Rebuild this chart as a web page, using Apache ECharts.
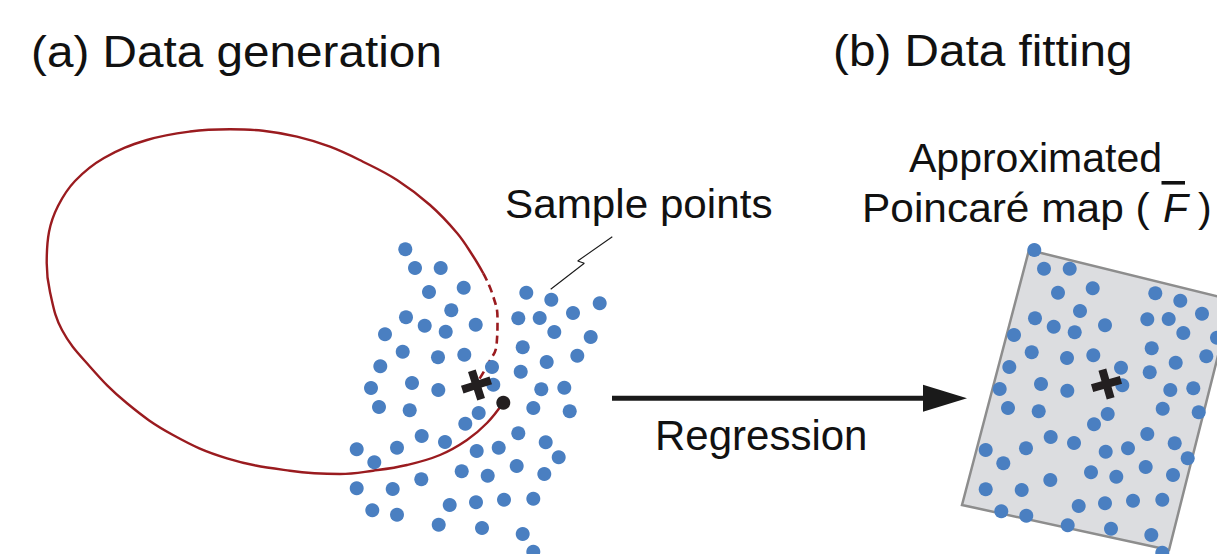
<!DOCTYPE html>
<html><head><meta charset="utf-8">
<script src="https://cdn.jsdelivr.net/npm/echarts@6/dist/echarts.min.js"></script>
<style>html,body{margin:0;padding:0;background:#fff}#c{width:1217px;height:554px}</style>
</head><body><div id="c"></div>
<script>
// ---- data (in canvas-like units of the figure) ----
const samplePointsA = [
 [405.3,249.3],[415,268],[440.7,268],[429,292],[463.7,287.7],[526.3,292.7],[551.3,299.7],[599.7,303.3],
 [451.3,310.3],[406,317.3],[424.7,325.7],[445.7,331.7],[475.7,324.7],[518.3,318.3],[539.7,318],[573,313],
 [385,334.3],[554.3,332],[590.7,337],[402.7,351.7],[438,357.3],[464.3,354.7],[522.7,347.3],[577.3,355.7],
 [380.3,366.3],[546.7,362],[492,367],[520.7,371.7],[371,388],[412,383],[438.3,390],[493.3,384.7],
 [541.3,389.3],[564.3,387.7],[379,407],[409.7,410.3],[533.3,408],[569.7,411.3],[478.7,413],[465.3,423.7],
 [421.7,436],[445,442],[518.3,433.3],[545.7,442.3],[356.7,449.3],[397,447.7],[476.7,451],[498.7,447.7],
 [558.7,457.3],[374.3,462.3],[461.7,471.3],[487.7,475.7],[516.7,466],[544.3,474],[421.3,479.3],[356.7,488.3],
 [392.7,489],[449.7,505],[476,502.3],[504,499.7],[533.3,498.7],[372.3,510.3],[397,514.7],[438.7,524.7],
 [482,528],[522.7,534],[533.3,551.7]
];
const samplePointsB = [
 [1034.3,250],[1044,268.7],[1069.7,268.7],[1058,292.7],[1092.7,288.3],[1155.3,293.3],[1180.3,300.7],[1202,313.7],
 [1080,311],[1035,318.3],[1053.7,326.7],[1074.7,332.3],[1105,325.3],[1147.3,319.3],[1168.7,319],[1183.3,333],
 [1217,337.7],[1014,335],[1031.7,352.3],[1067,358],[1093.3,355.3],[1151.7,348.3],[1206.3,356.3],[1009.3,367],
 [1175.7,362.7],[1121,367.7],[1149.7,372.3],[999.7,389],[1041,384],[1067.3,390.7],[1122.3,385.3],[1170.3,390],
 [1193.3,388.3],[1008,408],[1038.7,411.3],[1162.7,408.7],[1198.7,412.3],[1107.7,414],[1094,424.3],[1050.7,437],
 [1074,443],[1147.3,434],[1174.7,443.3],[985.7,450],[1026,448.3],[1105.7,451.7],[1128,448.3],[1187.7,458.3],
 [1003.3,463.3],[1091,472.3],[1116.3,476.7],[1145.7,467],[1173,475],[1050.3,480],[985.7,489.3],[1021.7,490],
 [1078.7,506],[1105,503.3],[1133,500.7],[1162.3,499.7],[1001.3,511.3],[1026.3,515.7],[1067.7,525.3],[1111,528.7],
 [1151.3,535],[1162.3,552.7]
];
const loopSolid = [
 [503,403],[487,423],[467,440],[440,455],[407,465],[373,470.7],[340,474],[290,470.7],
 [227,458.3],[173,435],[127,403.3],[90,366.7],[62,330],[50,292],[46.7,263],[49,232],
 [58,206],[75,181],[104,158],[147,140],[190,131.5],[230,129.3],[263,130.7],[297,136.7],
 [330,146.7],[363,161.7],[397,180],[430,205],[457,233],[473,256],[483.3,273.3]
];
const loopDashed = [[483.3,273.3],[493.3,296.7],[497.5,320],[496.7,343.3],[488,364],[478,381]];
const fixedPoint = [[503.3,402.7]];
const crossA = [[476.5,385]];
const crossB = [[1106.5,384]];
const leaderLine = [[550.7,289.3],[584.3,263.3],[577.7,261],[612.3,236.7]];
const mapRect = [[1029,250],[1232,300],[1169,550],[962,505]];
const arrowShaft = [[612,398.3],[926,398.3]];
const arrowTip = [967,398.3];

const FONT = "'Liberation Sans', Arial, Helvetica, sans-serif";
const chart = echarts.init(document.getElementById('c'), null, {renderer: 'svg'});

const plusPath = 'path://M-1.35,-5 L1.35,-5 L1.35,-1.35 L5,-1.35 L5,1.35 L1.35,1.35 L1.35,5 L-1.35,5 L-1.35,1.35 L-5,1.35 L-5,-1.35 L-1.35,-1.35 Z';

function txt(text, x, y, size, opts) {
  opts = opts || {};
  return {
    type: 'text', x: x, y: y, scaleX: opts.sx || 1, z: 100,
    style: {
      text: text, fill: '#111',
      font: (opts.italic ? 'italic ' : '') + size + 'px ' + FONT,
      textAlign: opts.align || 'left', textVerticalAlign: 'middle'
    }
  };
}

chart.setOption({
  animation: false,
  grid: {left: 0, right: 0, top: 0, bottom: 0},
  xAxis: {type: 'value', min: 0, max: 1217, show: false},
  yAxis: {type: 'value', min: 0, max: 554, inverse: true, show: false},
  series: [
    {
      type: 'custom', z: 1, data: [[0, 0]],
      renderItem: function (params, api) {
        return {type: 'polygon', shape: {points: mapRect.map(function (p) { return api.coord(p); })},
          style: {fill: '#dcdde0', stroke: '#8d8d8d', lineWidth: 2.5}};
      }
    },
    {
      type: 'custom', z: 2, data: [[0, 0]],
      renderItem: function (params, api) {
        const a = api.coord(arrowShaft[0]), b = api.coord(arrowShaft[1]), t = api.coord(arrowTip);
        return {type: 'group', children: [
          {type: 'line', shape: {x1: a[0], y1: a[1], x2: b[0], y2: b[1]}, style: {stroke: '#1a1a1a', lineWidth: 5}},
          {type: 'polygon', shape: {points: [[t[0] - 44, t[1] - 13.5], [t[0], t[1]], [t[0] - 44, t[1] + 13.5]]},
            style: {fill: '#1a1a1a'}}
        ]};
      }
    },
    {type: 'line', z: 3, data: loopSolid, smooth: 0.4, symbol: 'none',
      lineStyle: {color: '#9a1b1f', width: 2.4}},
    {type: 'line', z: 3, data: loopDashed, smooth: 0.5, symbol: 'none',
      lineStyle: {color: '#9a1b1f', width: 2.6, type: [8, 5]}},
    {type: 'line', z: 3, data: leaderLine, symbol: 'none',
      lineStyle: {color: '#1a1a1a', width: 1.1}},
    {type: 'scatter', z: 4, clip: false, data: samplePointsA, symbolSize: 14,
      itemStyle: {color: '#4a7fc1', opacity: 1}},
    {type: 'scatter', z: 4, clip: false, data: samplePointsB, symbolSize: 14,
      itemStyle: {color: '#4a7fc1', opacity: 1}},
    {type: 'scatter', z: 5, clip: false, data: fixedPoint, symbolSize: 14,
      itemStyle: {color: '#231f20', opacity: 1}},
    {type: 'scatter', z: 6, clip: false, data: crossA, symbol: plusPath, symbolSize: 30, symbolRotate: 18,
      itemStyle: {color: '#231f20', opacity: 1}},
    {type: 'scatter', z: 6, clip: false, data: crossB, symbol: plusPath, symbolSize: 30, symbolRotate: 16,
      itemStyle: {color: '#231f20', opacity: 1}}
  ],
  graphic: [
    txt('(a) Data generation', 31, 51, 45, {sx: 1.06}),
    txt('(b) Data fitting', 833, 50, 45, {sx: 1.06}),
    txt('Sample points', 505, 204, 41, {sx: 1.03}),
    txt('Approximated', 1035.5, 157.5, 41, {align: 'center'}),
    txt('Poincaré map (', 862, 207.5, 41, {sx: 1.035}),
    txt('F', 1163, 207.5, 41, {italic: true}),
    txt(')', 1198, 207.5, 41),
    {type: 'rect', z: 100, shape: {x: 1161.5, y: 181, width: 23.5, height: 3.6}, style: {fill: '#111'}},
    txt('Regression', 655, 435, 42)
  ]
});
</script></body></html>
